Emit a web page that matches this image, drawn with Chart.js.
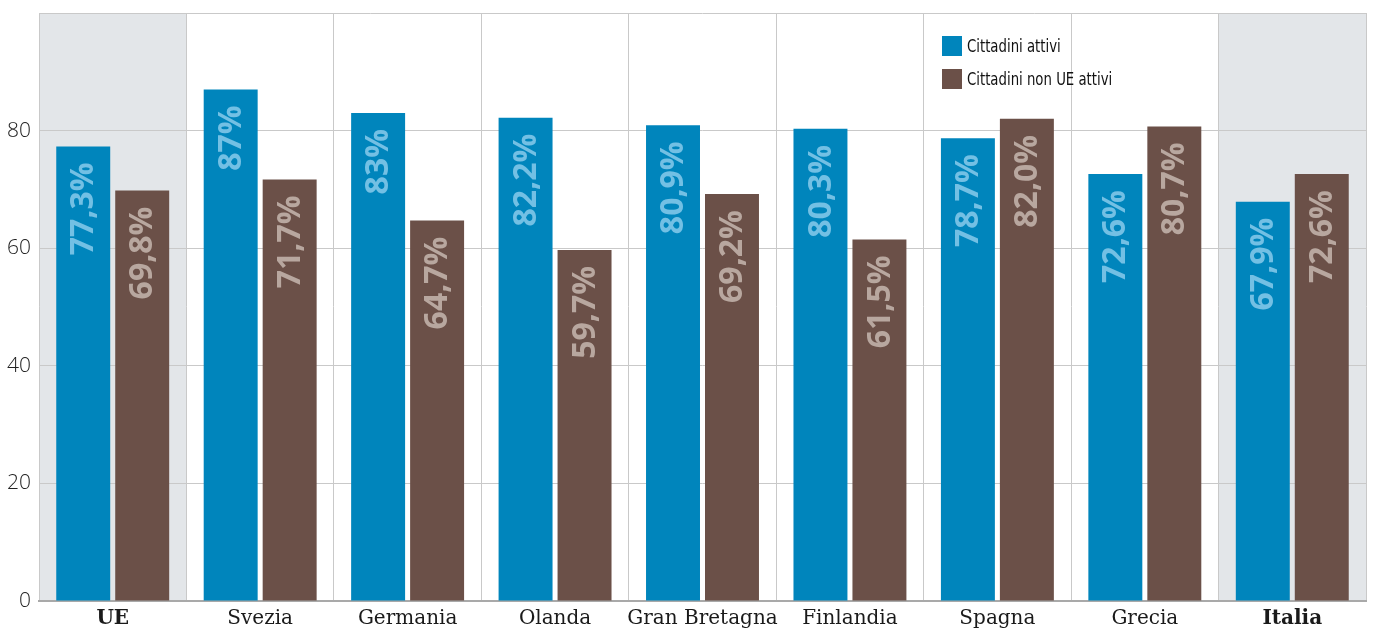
<!DOCTYPE html>
<html>
<head>
<meta charset="utf-8">
<script src="https://cdn.jsdelivr.net/npm/chart.js@4"></script>
<style>
html,body{margin:0;padding:0;background:#fff;}
#wrap{width:1373px;height:630px;position:relative;}
</style>
</head>
<body>
<div id="wrap"><canvas id="c" width="1373" height="630"></canvas></div>
<script>
const categories = ["UE","Svezia","Germania","Olanda","Gran Bretagna","Finlandia","Spagna","Grecia","Italia"];
const seriesNames = ["Cittadini attivi","Cittadini non UE attivi"];
const cittadiniAttivi = [77.3, 87, 83, 82.2, 80.9, 80.3, 78.7, 72.6, 67.9];
const nonUEAttivi = [69.8, 71.7, 64.7, 59.7, 69.2, 61.5, 82.0, 80.7, 72.6];
const labelsAttivi = ["77,3%","87%","83%","82,2%","80,9%","80,3%","78,7%","72,6%","67,9%"];
const labelsNonUE = ["69,8%","71,7%","64,7%","59,7%","69,2%","61,5%","82,0%","80,7%","72,6%"];
const highlighted = ["UE","Italia"];
const yTicks = [0,20,40,60,80,100];

const BLUE = "#0085bc", BROWN = "#6b5048";
const BLUE_LBL = "#73c0e4", BROWN_LBL = "#b8a79f";
const GRID = "#c9c9c9";

const bgPlugin = {
  id: "bg",
  beforeDraw(chart) {
    const {ctx, chartArea, scales} = chart;
    const x = scales.x;
    const half = (x.getPixelForValue(1) - x.getPixelForValue(0)) / 2;
    ctx.save();
    ctx.fillStyle = "#e3e6e9";
    categories.forEach((c, i) => {
      if (highlighted.includes(c)) {
        const cx = x.getPixelForValue(i);
        ctx.fillRect(cx - half, chartArea.top, half * 2, chartArea.bottom - chartArea.top);
      }
    });
    ctx.restore();
  }
};

const labelPlugin = {
  id: "vlabels",
  afterDatasetsDraw(chart) {
    const {ctx} = chart;
    const sets = [[labelsAttivi, BLUE_LBL], [labelsNonUE, BROWN_LBL]];
    chart.data.datasets.forEach((ds, di) => {
      const meta = chart.getDatasetMeta(di);
      meta.data.forEach((el, i) => {
        ctx.save();
        ctx.translate(el.x, el.y + 16);
        ctx.rotate(-Math.PI / 2);
        ctx.font = "bold 32px 'Open Sans'";
        ctx.fillStyle = sets[di][1];
        ctx.textAlign = "right";
        ctx.textBaseline = "middle";
        ctx.fillText(sets[di][0][i], 0, 1);
        ctx.restore();
      });
    });
  }
};

const legendPlugin = {
  id: "lg",
  afterDraw(chart) {
    const {ctx} = chart;
    const items = [[seriesNames[0], BLUE, 36], [seriesNames[1], BROWN, 69]];
    ctx.save();
    ctx.font = "18px 'Liberation Sans Narrow', 'DejaVu Sans Condensed', sans-serif";
    ctx.textBaseline = "middle";
    items.forEach(([t, col, y]) => {
      ctx.fillStyle = col;
      ctx.fillRect(942, y, 20, 20);
      ctx.save();
      ctx.translate(967, y + 11);
      ctx.scale(0.82, 1);
      ctx.fillStyle = "#111";
      ctx.fillText(t, 0, 0);
      ctx.restore();
    });
    ctx.restore();
  }
};

new Chart(document.getElementById("c"), {
  type: "bar",
  data: {
    labels: categories,
    datasets: [
      {label: seriesNames[0], data: cittadiniAttivi, backgroundColor: BLUE, categoryPercentage: 0.8, barPercentage: 0.915},
      {label: seriesNames[1], data: nonUEAttivi, backgroundColor: BROWN, categoryPercentage: 0.8, barPercentage: 0.915}
    ]
  },
  options: {
    responsive: false,
    animation: false,
    devicePixelRatio: 1,
    layout: {padding: {top: 13, right: 7, left: 0, bottom: 0}},
    plugins: {legend: {display: false}, tooltip: {enabled: false}},
    scales: {
      x: {
        offset: true,
        grid: {display: true, offset: true, color: GRID, lineWidth: 1, drawTicks: false},
        border: {display: true, color: "#a9a9a9", width: 2},
        ticks: {
          padding: 6,
          color: "#1a1a1a",
          font: (ctx) => ({family: "'DejaVu Serif', serif", size: 20, weight: highlighted.includes(categories[ctx.index]) ? "bold" : "normal"}),
          maxRotation: 0, autoSkip: false
        },
        afterFit(scale) { scale.height = 29; scale.paddingLeft = 0; scale.paddingRight = 0; }
      },
      y: {
        min: 0, max: 100,
        afterBuildTicks(scale) { scale.ticks = yTicks.map(v => ({value: v})); },
        grid: {color: GRID, lineWidth: 1, drawTicks: false},
        border: {display: false},
        ticks: {
          padding: 8,
          color: "#222",
          font: {family: "'Open Sans', sans-serif", size: 21, weight: "300"},
          callback: (v) => v === 100 ? "" : String(v)
        },
        afterFit(scale) { scale.width = 39; scale.paddingTop = 0; scale.paddingBottom = 0; }
      }
    }
  },
  plugins: [bgPlugin, labelPlugin, legendPlugin]
});
</script>
</body>
</html>
